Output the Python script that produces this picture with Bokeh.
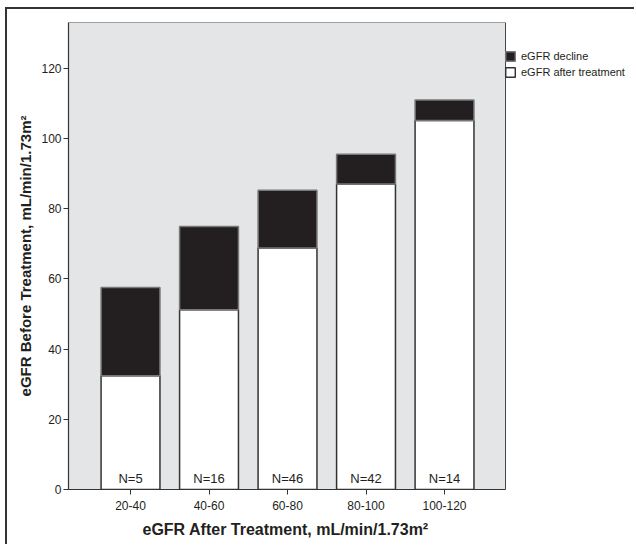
from bokeh.plotting import figure
from bokeh.models import (ColumnDataSource, FixedTicker, Range1d, Legend, LegendItem, Title)
from bokeh.core.properties import value
from bokeh.embed import file_html
from bokeh.resources import INLINE

categories = ["20-40", "40-60", "60-80", "80-100", "100-120"]
egfr_after = [32.4, 51.2, 68.8, 87.0, 105.1]
egfr_before = [57.5, 74.9, 85.2, 95.5, 110.9]
n_counts = [5, 16, 46, 42, 14]
y_ticks = [0, 20, 40, 60, 80, 100, 120]

X0, X1 = 0.21, 5.777   # extent of the grey plotting area
Y1 = 133

xs = list(range(1, len(categories) + 1))
src = ColumnDataSource(dict(
    x=xs, after=egfr_after, before=egfr_before,
    zero=[0] * len(xs),
    nlab=["N=%d" % n for n in n_counts],
    ny=[3.2] * len(xs),
))

FONT = "Liberation Sans"
TXT = "#231f20"

p = figure(frame_width=566, frame_height=467, output_backend="svg",
           toolbar_location=None,
           x_range=Range1d(X0, 7.42), y_range=Range1d(0, Y1),
           min_border_left=61, min_border_right=0, min_border_top=13,
           min_border_bottom=0)
p.background_fill_color = "white"
p.border_fill_color = "white"
p.outline_line_color = None
p.grid.visible = False
p.styles = {"margin-left": "5px", "margin-top": "7px",
            "border-left": "2px solid #333", "border-top": "2px solid #333"}

# grey plotting area with its outline
p.quad(left=[X0], right=[X1], bottom=[0], top=[Y1], fill_color="#e4e5e6",
       line_color="#444444", line_width=1)

white = p.vbar(x="x", width=0.75, bottom="zero", top="after", source=src,
               fill_color="white", line_color="#333333", line_width=1.5)
black = p.vbar(x="x", width=0.75, bottom="after", top="before", source=src,
               fill_color="#231f20", line_color="#777777", line_width=1.5)

p.text(x="x", y="ny", text="nlab", source=src, text_align="center",
       text_baseline="alphabetic", text_font=value(FONT),
       text_font_size="13px", text_color=TXT)

p.xaxis.ticker = FixedTicker(ticks=xs)
p.xaxis.major_label_overrides = {i: c for i, c in zip(xs, categories)}
p.xaxis.bounds = (X0, X1)
p.yaxis.ticker = FixedTicker(ticks=y_ticks)
for ax in (p.xaxis[0], p.yaxis[0]):
    ax.minor_tick_line_color = None
    ax.major_tick_in = 0
    ax.major_tick_out = 5
    ax.major_tick_line_color = "#333333"
    ax.axis_line_color = "#333333"
    ax.axis_line_width = 1.2
    ax.major_label_text_font = FONT
    ax.major_label_text_font_size = "12px"
    ax.major_label_text_color = TXT
    ax.axis_label_text_font = FONT
    ax.axis_label_text_font_style = "bold"
    ax.axis_label_text_color = TXT
p.yaxis.axis_label_text_font_size = "15px"
p.yaxis.major_label_standoff = 2
p.xaxis.major_label_standoff = 6
p.yaxis.axis_label = "eGFR Before Treatment, mL/min/1.73m²"
p.yaxis.axis_label_standoff = 4

# x-axis title centred under the grey area only
p.add_layout(Title(text="eGFR After Treatment, mL/min/1.73m²", align="left",
                   offset=74, text_font=FONT, text_font_style="bold",
                   text_font_size="16px", text_color=TXT, standoff=13), "below")

legend = Legend(items=[LegendItem(label="eGFR decline", renderers=[black]),
                       LegendItem(label="eGFR after treatment", renderers=[white])],
                location=(436, 411), background_fill_alpha=0, border_line_color=None,
                label_text_font=FONT, label_text_font_size="11px",
                label_text_color=TXT, glyph_width=12, glyph_height=12,
                spacing=4, padding=0, margin=0, label_standoff=5, label_height=12)
p.add_layout(legend)

open("out.html", "w").write(file_html(p, INLINE))
